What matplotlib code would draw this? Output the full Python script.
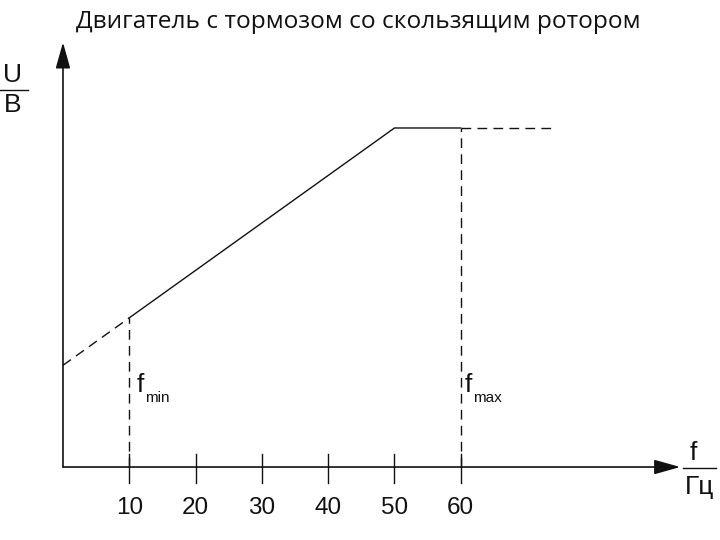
import matplotlib.pyplot as plt

# frequency (Hz) / voltage (V) points of the U/f characteristic
f_start = [0, 10]
u_start = [120, 176]
f_solid = [10, 50, 60]
u_solid = [176, 400, 400]
f_end = [60, 74]
u_end = [400, 400]
f_min = 10
f_max = 60
u_at_fmin = 176
u_at_fmax = 400
xticks = [10, 20, 30, 40, 50, 60]

title = "Двигатель с тормозом со скользящим ротором"

fig = plt.figure(figsize=(7.2, 5.4), dpi=100)
ax = fig.add_axes([0, 0, 1, 1])
# axes cover the whole figure, origin placed like in the original drawing
ax.set_xlim(-9.50, 99.1)
ax.set_ylim(-86.1, 551.0)
ax.axis("off")

lc = "#111111"
dash = (0, (7, 4.5))

# the characteristic
ax.plot(f_start, u_start, color=lc, lw=1.0, linestyle=dash)
ax.plot(f_solid, u_solid, color=lc, lw=1.0)
ax.plot(f_end, u_end, color=lc, lw=1.0, linestyle=dash)

# fmin / fmax guides
ax.plot([f_min, f_min], [0, u_at_fmin], color=lc, lw=1.0, linestyle=dash)
ax.plot([f_max, f_max], [0, u_at_fmax], color=lc, lw=1.0, linestyle=dash)

# axes with arrows
ax.annotate("", xy=(93.1, 0), xytext=(0, 0),
            arrowprops=dict(arrowstyle="-|>,head_length=1.6,head_width=0.45",
                            color=lc, lw=1.2, shrinkA=0, shrinkB=0))
ax.annotate("", xy=(0, 501), xytext=(0, 0),
            arrowprops=dict(arrowstyle="-|>,head_length=1.6,head_width=0.45",
                            color=lc, lw=1.2, shrinkA=0, shrinkB=0))

# ticks crossing the f axis
for t in xticks:
    ax.plot([t, t], [-19, 15], color=lc, lw=1.0)
    ax.text(t, -48, str(t), ha="center", va="center", fontsize=17.5,
            family="Liberation Sans", color=lc)

# axis labels as fractions
ax.text(-7.6, 463, "U", ha="center", va="center", fontsize=19, family="Liberation Sans", color=lc)
ax.plot([-9.5, -5.3], [445, 445], color=lc, lw=1.0)
ax.text(-7.6, 427, "B", ha="center", va="center", fontsize=19, family="Liberation Sans", color=lc)

ax.text(95.0, 17, "f", ha="center", va="center", fontsize=19, family="Liberation Sans", color=lc)
ax.plot([93.5, 98.5], [-1, -1], color=lc, lw=1.0)
ax.text(96.0, -23, "Гц", ha="center", va="center", fontsize=19, family="Liberation Sans", color=lc)

# fmin / fmax labels
ax.text(f_min + 1.1, 97, "f", ha="left", va="center", fontsize=19, family="Liberation Sans", color=lc)
ax.text(f_min + 2.4, 82, "min", ha="left", va="center", fontsize=11, family="Liberation Sans", color=lc)
ax.text(f_max + 0.6, 97, "f", ha="left", va="center", fontsize=19, family="Liberation Sans", color=lc)
ax.text(f_max + 1.9, 82, "max", ha="left", va="center", fontsize=11, family="Liberation Sans", color=lc)

fig.text(0.497, 1 - 22 / 540, title, ha="center", va="center", fontsize=17.6,
         family="Open Sans", color=lc)

fig.savefig("out.png", dpi=100)
